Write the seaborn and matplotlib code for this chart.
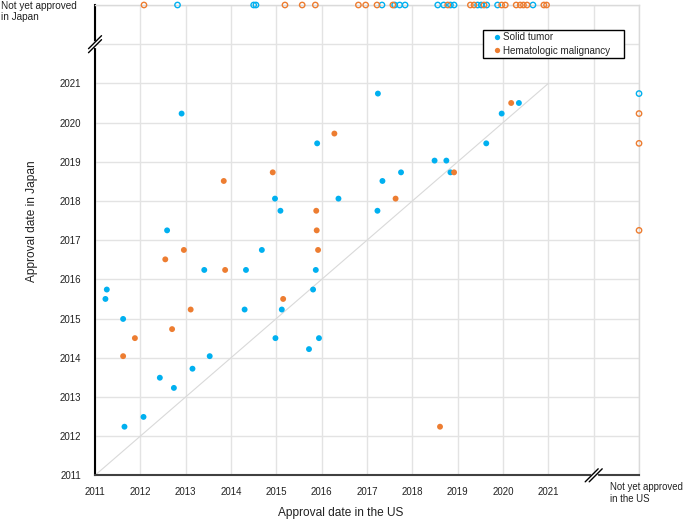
import matplotlib
matplotlib.use("Agg")
import matplotlib.pyplot as plt
import matplotlib.patches as mpatches
import seaborn as sns
import pandas as pd

# approval dates as decimal years, drugs approved in both countries
solid_us = [2012.91, 2015.90, 2014.97, 2016.37, 2015.09, 2012.59, 2014.68, 2013.41, 2014.33,
            2015.87, 2011.26, 2015.81, 2011.23, 2011.62, 2014.30, 2015.12, 2014.98, 2015.94,
            2015.72, 2013.53, 2013.15, 2012.43, 2012.74, 2012.07, 2011.65, 2017.24, 2020.35,
            2019.97, 2019.63, 2018.49, 2018.75, 2017.75, 2018.84, 2017.34, 2017.23]
solid_jp = [2020.23, 2019.47, 2018.06, 2018.06, 2017.75, 2017.25, 2016.75, 2016.24, 2016.24,
            2016.24, 2015.74, 2015.74, 2015.50, 2014.99, 2015.23, 2015.23, 2014.50, 2014.50,
            2014.22, 2014.04, 2013.72, 2013.49, 2013.23, 2012.49, 2012.24, 2020.74, 2020.50,
            2020.23, 2019.47, 2019.03, 2019.03, 2018.73, 2018.73, 2018.51, 2017.75]
heme_us = [2016.28, 2014.92, 2013.84, 2015.88, 2015.89, 2012.96, 2015.92, 2012.55, 2013.87,
           2015.15, 2013.11, 2012.70, 2011.88, 2011.62, 2020.18, 2018.92, 2017.63, 2018.61]
heme_jp = [2019.72, 2018.73, 2018.51, 2017.75, 2017.25, 2016.75, 2016.75, 2016.51, 2016.24,
           2015.50, 2015.23, 2014.73, 2014.50, 2014.04, 2020.50, 2018.73, 2018.06, 2012.24]

# approved in the US only (top row)
solid_us_only = [2012.82, 2014.50, 2014.55, 2017.33, 2017.61, 2017.72, 2017.84, 2018.56,
                 2018.69, 2018.84, 2018.92, 2019.44, 2019.52, 2019.64, 2019.88, 2020.66]
heme_us_only = [2012.08, 2015.19, 2015.57, 2015.86, 2016.81, 2016.97, 2017.22, 2017.57,
                2018.78, 2019.28, 2019.36, 2019.58, 2019.97, 2020.05, 2020.29, 2020.38,
                2020.45, 2020.53, 2020.90, 2020.96]

# approved in Japan only (right column)
solid_jp_only = [2020.74]
heme_jp_only = [2020.23, 2019.47, 2017.25]

groups = ["Solid tumor", "Hematologic malignancy"]
colors = {"Solid tumor": "#00B0F0", "Hematologic malignancy": "#ED7D31"}
years = list(range(2011, 2022))
NOT_YET = 2023

both = pd.DataFrame({
    "us": solid_us + heme_us,
    "jp": solid_jp + heme_jp,
    "type": [groups[0]] * len(solid_us) + [groups[1]] * len(heme_us),
})
single = pd.DataFrame({
    "us": solid_us_only + heme_us_only + [NOT_YET] * (len(solid_jp_only) + len(heme_jp_only)),
    "jp": [NOT_YET] * (len(solid_us_only) + len(heme_us_only)) + solid_jp_only + heme_jp_only,
    "type": [groups[0]] * len(solid_us_only) + [groups[1]] * len(heme_us_only)
            + [groups[0]] * len(solid_jp_only) + [groups[1]] * len(heme_jp_only),
})

sns.set_theme(style="white")
plt.rcParams['font.family'] = ['Liberation Sans', 'DejaVu Sans']

fig = plt.figure(figsize=(6.85, 5.21), dpi=100)
ax = fig.add_axes([0.1387, 0.0877, 0.7942, 0.9027])

ax.plot([2011, 2021], [2011, 2021], color="#D9D9D9", lw=0.8, zorder=1)

sns.scatterplot(data=both, x="us", y="jp", hue="type", hue_order=groups, palette=colors,
                s=18, linewidth=0, ax=ax, zorder=3)
sns.scatterplot(data=single, x="us", y="jp", hue="type", hue_order=groups, palette=colors,
                s=15, ax=ax, legend=False, zorder=3)
hollow = ax.collections[-1]
fc = hollow.get_facecolors()
hollow.set_edgecolors(fc)
hollow.set_facecolors("none")
hollow.set_linewidth(1.0)
hollow.set_clip_on(False)

ax.set_xlim(2011, NOT_YET)
ax.set_ylim(2011, NOT_YET)
ticks = list(range(2011, NOT_YET + 1))
ax.set_xticks(ticks)
ax.set_yticks(ticks)
ax.set_xticklabels([str(y) if y in years else "" for y in ticks], fontsize=7)
ax.set_yticklabels([str(y) if y in years else "" for y in ticks], fontsize=7)
ax.tick_params(axis="x", length=0, pad=8.5, colors="#222222")
ax.tick_params(axis="y", length=0, pad=10, colors="#222222")
ax.grid(True, color="#E3E3E3", lw=1.0)
ax.set_axisbelow(True)

ax.spines["left"].set_color("black")
ax.spines["left"].set_linewidth(1.5)
ax.spines["bottom"].set_color("#404040")
ax.spines["bottom"].set_linewidth(1.5)
for side in ["top", "right"]:
    ax.spines[side].set_color("#DADADA")
    ax.spines[side].set_linewidth(1.0)

ax.set_xlabel("Approval date in the US", fontsize=8.6, va="center", color="#222222")
ax.xaxis.set_label_coords(0.452, -0.080)
ax.set_ylabel("Approval date in Japan", fontsize=8.6, va="center", color="#222222")
ax.yaxis.set_label_coords(-0.115, 0.54)

fig.text(0.002, 0.999, "Not yet approved\nin Japan", ha="left", va="top",
         fontsize=7.2, linespacing=1.15, color="#222222")
fig.text(0.891, 0.074, "Not yet approved\nin the US", ha="left", va="top",
         fontsize=6.9, linespacing=1.15, color="#222222")

# axis break marks at 2022
W, H = 544.0, 470.3
def axis_break(cx, cy, vertical):
    if vertical:
        offs = [(0, -2.0 / H), (0, 2.0 / H)]
        ax.plot([cx, cx], [cy - 2.0 / H, cy + 2.0 / H], transform=ax.transAxes,
                color="white", lw=2.5, clip_on=False, zorder=5)
    else:
        offs = [(-2.0 / W, 0), (2.0 / W, 0)]
        ax.plot([cx - 2.0 / W, cx + 2.0 / W], [cy, cy], transform=ax.transAxes,
                color="white", lw=2.5, clip_on=False, zorder=5)
    for ox, oy in offs:
        ax.plot([cx + ox - 6.5 / W, cx + ox + 6.5 / W], [cy + oy - 6.5 / H, cy + oy + 6.5 / H],
                transform=ax.transAxes, color="black", lw=1.0, clip_on=False, zorder=6)

axis_break(0.0, 11 / 12, True)
axis_break(11 / 12, 0.0, False)

# legend box drawn separately (wide side padding, tight top/bottom)
ax.add_patch(mpatches.Rectangle((0.7132, 0.8873), 0.2592, 0.0595, transform=ax.transAxes,
                                facecolor="white", edgecolor="black", lw=1.0, zorder=4))
sns.move_legend(ax, "upper left", bbox_to_anchor=(0.7316, 0.9426), title=None,
                frameon=False, fontsize=7.1, borderpad=0, borderaxespad=0,
                handletextpad=0.2, labelspacing=0.4, markerscale=0.9, handlelength=0.8)
ax.get_legend().set_zorder(6)

fig.savefig("out.png", dpi=100)
